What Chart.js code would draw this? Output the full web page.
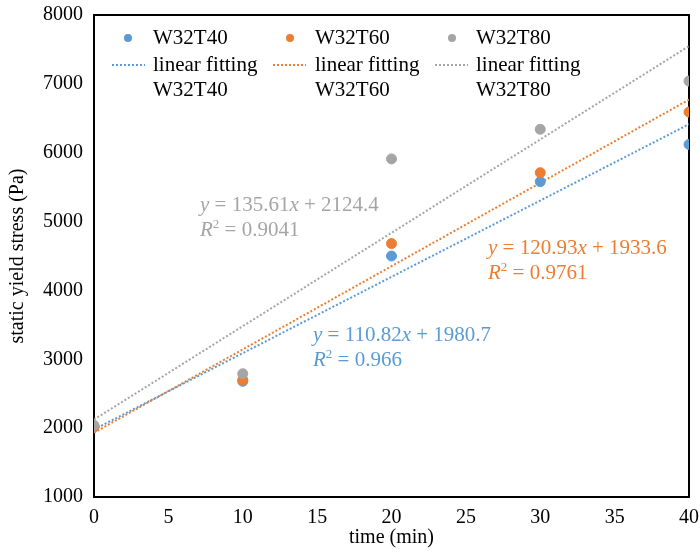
<!DOCTYPE html>
<html>
<head>
<meta charset="utf-8">
<script src="https://cdn.jsdelivr.net/npm/chart.js@4/dist/chart.umd.min.js"></script>
<style>
  html, body { margin: 0; padding: 0; background: #fff; }
  #wrap { width: 700px; height: 552px; }
</style>
</head>
<body>
<div id="wrap"><canvas id="yieldChart" width="700" height="552"></canvas></div>
<script>
// measured times (min)
const times = [0, 10, 20, 30, 40];
const w32t40 = [2020, 2680, 4500, 5580, 6120];
const w32t60 = [2020, 2700, 4680, 5710, 6590];
const w32t80 = [2040, 2790, 5910, 6340, 7040];

// fitted lines, values at t = 0 and t = 40
const fitX = [0, 40];
const fit40 = [1980.7, 6413.5];
const fit60 = [1933.6, 6770.8];
const fit80 = [2124.4, 7548.8];

const seriesNames = ['W32T40', 'W32T60', 'W32T80'];
const equations = [
  ['y = 110.82x + 1980.7', 'R² = 0.966'],
  ['y = 120.93x + 1933.6', 'R² = 0.9761'],
  ['y = 135.61x + 2124.4', 'R² = 0.9041']
];

const blue = '#5B9BD5';
const orange = '#ED7D31';
const gray = '#A5A5A5';
const serif = "'Liberation Serif', 'Times New Roman', serif";

function pts(xs, ys) {
  return xs.map((x, i) => ({ x: x, y: ys[i] }));
}

// black box round the plot
const frame = {
  id: 'frame',
  beforeDatasetsDraw(chart) {
    const a = chart.chartArea;
    const ctx = chart.ctx;
    ctx.save();
    ctx.strokeStyle = '#000';
    ctx.lineWidth = 2;
    ctx.strokeRect(a.left, a.top, a.right - a.left, a.bottom - a.top);
    ctx.restore();
  }
};

// legend in three columns + fit equations
const notes = {
  id: 'notes',
  afterDraw(chart) {
    const ctx = chart.ctx;
    ctx.save();
    ctx.font = '21px ' + serif;
    ctx.textBaseline = 'middle';
    ctx.textAlign = 'left';
    const cols = [
      { dot: 128, x0: 112, x1: 145, text: 153, color: blue },
      { dot: 290, x0: 273, x1: 306, text: 315, color: orange },
      { dot: 452, x0: 435, x1: 468, text: 476, color: gray }
    ];
    cols.forEach((c, i) => {
      ctx.fillStyle = c.color;
      ctx.beginPath();
      ctx.arc(c.dot, 38, 4, 0, Math.PI * 2);
      ctx.fill();
      ctx.strokeStyle = c.color;
      ctx.lineWidth = 2;
      ctx.setLineDash([2, 2]);
      ctx.beginPath();
      ctx.moveTo(c.x0, 65);
      ctx.lineTo(c.x1, 65);
      ctx.stroke();
      ctx.setLineDash([]);
      ctx.fillStyle = '#000';
      ctx.fillText(seriesNames[i], c.text, 38);
      ctx.fillText('linear fitting', c.text, 65);
      ctx.fillText(seriesNames[i], c.text, 90);
    });

    const spots = [
      { x: 313, y: 335, color: blue },
      { x: 488, y: 248, color: orange },
      { x: 200, y: 205, color: gray }
    ];
    spots.forEach((s, i) => {
      ctx.fillStyle = s.color;
      drawEq(ctx, s.x, s.y, equations[i][0]);
      drawR2(ctx, s.x, s.y + 25, equations[i][1]);
    });
    ctx.restore();
  }
};

function drawEq(ctx, x, y, txt) {
  // italic y and x
  const m = txt.match(/^y = ([\d.]+)x \+ ([\d.]+)$/);
  let cx = x;
  ctx.font = 'italic 21px ' + serif;
  ctx.fillText('y', cx, y); cx += ctx.measureText('y').width;
  ctx.font = '21px ' + serif;
  const a = ' = ' + m[1];
  ctx.fillText(a, cx, y); cx += ctx.measureText(a).width;
  ctx.font = 'italic 21px ' + serif;
  ctx.fillText('x', cx, y); cx += ctx.measureText('x').width;
  ctx.font = '21px ' + serif;
  ctx.fillText(' + ' + m[2], cx, y);
}

function drawR2(ctx, x, y, txt) {
  let cx = x;
  ctx.font = 'italic 21px ' + serif;
  ctx.fillText('R', cx, y); cx += ctx.measureText('R').width;
  ctx.font = '13px ' + serif;
  ctx.fillText('2', cx, y - 5); cx += ctx.measureText('2').width;
  ctx.font = '21px ' + serif;
  ctx.fillText(txt.replace('R² ', ' '), cx, y);
}

const ctx = document.getElementById('yieldChart').getContext('2d');

const yieldChart = new Chart(ctx, {
  type: 'scatter',
  data: {
    datasets: [
      { label: 'W32T40', data: pts(times, w32t40), backgroundColor: blue, borderColor: blue, pointRadius: 5, order: 3 },
      { label: 'W32T60', data: pts(times, w32t60), backgroundColor: orange, borderColor: orange, pointRadius: 5, order: 2 },
      { label: 'W32T80', data: pts(times, w32t80), backgroundColor: gray, borderColor: gray, pointRadius: 5, order: 1 },
      { label: 'linear fitting W32T40', data: pts(fitX, fit40), showLine: true, borderColor: blue, borderWidth: 2, borderDash: [2, 2], pointRadius: 0, order: 4 },
      { label: 'linear fitting W32T60', data: pts(fitX, fit60), showLine: true, borderColor: orange, borderWidth: 2, borderDash: [2, 2], pointRadius: 0, order: 5 },
      { label: 'linear fitting W32T80', data: pts(fitX, fit80), showLine: true, borderColor: gray, borderWidth: 2, borderDash: [2, 2], pointRadius: 0, order: 6 }
    ]
  },
  options: {
    responsive: false,
    animation: false,
    layout: { padding: { top: 15, right: 11, left: 0, bottom: 0 } },
    plugins: {
      legend: { display: false },
      tooltip: { enabled: false }
    },
    scales: {
      x: {
        type: 'linear',
        min: 0,
        max: 40,
        ticks: { stepSize: 5, color: '#000', font: { family: serif, size: 20 }, padding: 1 },
        grid: { display: false },
        border: { display: false },
        title: { display: true, text: 'time (min)', color: '#000', font: { family: serif, size: 20 }, padding: { top: 0, bottom: 2 } },
        afterFit(scale) { scale.height = 55; }
      },
      y: {
        min: 1000,
        max: 8000,
        ticks: { stepSize: 1000, color: '#000', font: { family: serif, size: 20 }, padding: 3, callback: v => String(v) },
        grid: { display: false },
        border: { display: false },
        title: { display: true, text: 'static yield stress (Pa)', color: '#000', font: { family: serif, size: 20 }, padding: 6 },
        afterFit(scale) { scale.width = 94; }
      }
    }
  },
  plugins: [frame, notes]
});
</script>
</body>
</html>
